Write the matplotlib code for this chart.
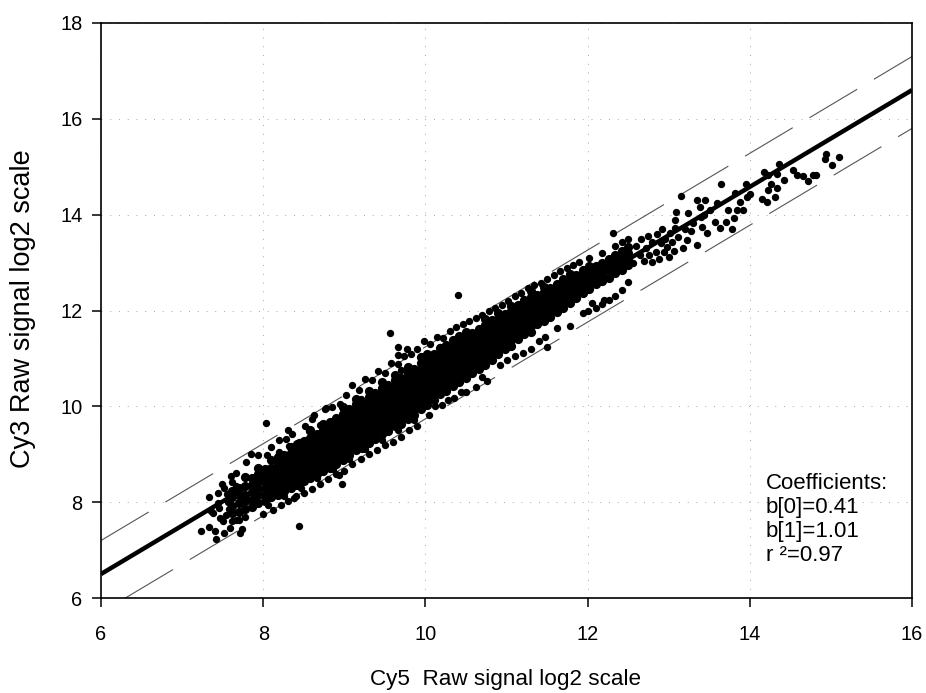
import matplotlib
matplotlib.use("Agg")
import matplotlib.pyplot as plt

plt.rcParams['font.family'] = ['Liberation Sans', 'DejaVu Sans']

# dense part of the cloud, read column by column (x, then the y values in that column)
col_x = [7.62, 7.7, 7.78, 7.86, 7.94, 8.02, 8.1, 8.18, 8.26, 8.34, 8.42, 8.5, 8.58, 8.66, 8.74, 8.82, 8.9, 8.98,
         9.06, 9.14, 9.22, 9.3, 9.38, 9.46, 9.54, 9.62, 9.7, 9.78, 9.86, 9.94, 10.02, 10.1, 10.18, 10.26, 10.34,
         10.42, 10.5, 10.58, 10.66, 10.74, 10.82, 10.9, 10.98, 11.06, 11.14, 11.22, 11.3, 11.38, 11.46, 11.54,
         11.62, 11.7, 11.78, 11.86, 11.94, 12.02, 12.1, 12.18, 12.26, 12.34, 12.42, 12.5]
col_y = [
    [7.78, 7.92, 8.1, 8.24],
    [7.8, 7.98, 8.14, 8.3],
    [7.86, 8.02, 8.16, 8.34, 8.52],
    [7.9, 8.05, 8.22, 8.36, 8.5],
    [7.98, 8.14, 8.28, 8.42, 8.58, 8.72],
    [8.02, 8.16, 8.3, 8.44, 8.56, 8.7],
    [8.1, 8.22, 8.34, 8.46, 8.6, 8.72, 8.88],
    [8.16, 8.3, 8.42, 8.54, 8.68, 8.8, 8.94],
    [8.24, 8.36, 8.48, 8.6, 8.72, 8.84, 8.98],
    [8.3, 8.42, 8.54, 8.66, 8.78, 8.9, 9.02, 9.16],
    [8.36, 8.48, 8.6, 8.72, 8.84, 8.96, 9.08, 9.22],
    [8.44, 8.56, 8.68, 8.8, 8.92, 9.04, 9.16, 9.28],
    [8.5, 8.62, 8.74, 8.86, 8.98, 9.1, 9.22, 9.34, 9.5],
    [8.58, 8.7, 8.82, 8.94, 9.06, 9.18, 9.3, 9.42],
    [8.66, 8.78, 8.9, 9.02, 9.14, 9.26, 9.38, 9.5, 9.64],
    [8.72, 8.84, 8.96, 9.08, 9.2, 9.32, 9.44, 9.56, 9.68],
    [8.8, 8.92, 9.04, 9.16, 9.28, 9.4, 9.52, 9.64, 9.76],
    [8.88, 9.0, 9.12, 9.24, 9.36, 9.48, 9.6, 9.72, 9.84, 9.98],
    [8.98, 9.1, 9.22, 9.34, 9.46, 9.58, 9.7, 9.82, 9.94],
    [9.08, 9.2, 9.32, 9.44, 9.56, 9.68, 9.8, 9.92, 10.04, 10.16],
    [9.14, 9.26, 9.38, 9.5, 9.62, 9.74, 9.86, 9.98, 10.1],
    [9.24, 9.36, 9.48, 9.6, 9.72, 9.84, 9.96, 10.08, 10.2, 10.32],
    [9.32, 9.44, 9.56, 9.68, 9.8, 9.92, 10.04, 10.16, 10.28],
    [9.42, 9.54, 9.66, 9.78, 9.9, 10.02, 10.14, 10.26, 10.38, 10.5],
    [9.48, 9.6, 9.72, 9.84, 9.96, 10.08, 10.2, 10.32, 10.44],
    [9.58, 9.7, 9.82, 9.94, 10.06, 10.18, 10.3, 10.42, 10.54, 10.66],
    [9.64, 9.76, 9.88, 10.0, 10.12, 10.24, 10.36, 10.48, 10.6],
    [9.74, 9.86, 9.98, 10.1, 10.22, 10.34, 10.46, 10.58, 10.7, 10.82],
    [9.82, 9.94, 10.06, 10.18, 10.3, 10.42, 10.54, 10.66, 10.78],
    [9.94, 10.06, 10.18, 10.3, 10.42, 10.54, 10.66, 10.78, 10.9, 11.02],
    [10.02, 10.14, 10.26, 10.38, 10.5, 10.62, 10.74, 10.86, 10.98, 11.1],
    [10.14, 10.26, 10.38, 10.5, 10.62, 10.74, 10.86, 10.98, 11.1],
    [10.26, 10.38, 10.5, 10.62, 10.74, 10.86, 10.98, 11.1, 11.22],
    [10.32, 10.44, 10.56, 10.68, 10.8, 10.92, 11.04, 11.16, 11.28],
    [10.42, 10.54, 10.66, 10.78, 10.9, 11.02, 11.14, 11.26, 11.38],
    [10.5, 10.62, 10.74, 10.86, 10.98, 11.1, 11.22, 11.34, 11.46],
    [10.6, 10.72, 10.84, 10.96, 11.08, 11.2, 11.32, 11.44, 11.56],
    [10.7, 10.82, 10.94, 11.06, 11.18, 11.3, 11.42, 11.54],
    [10.78, 10.9, 11.02, 11.14, 11.26, 11.38, 11.5, 11.62],
    [10.86, 10.98, 11.1, 11.22, 11.34, 11.46, 11.58, 11.7, 11.82],
    [10.96, 11.08, 11.2, 11.32, 11.44, 11.56, 11.68, 11.8],
    [11.1, 11.22, 11.34, 11.46, 11.58, 11.7, 11.82, 11.94],
    [11.2, 11.32, 11.44, 11.56, 11.68, 11.8, 11.92],
    [11.26, 11.38, 11.5, 11.62, 11.74, 11.86, 11.98, 12.1],
    [11.4, 11.52, 11.64, 11.76, 11.88, 12.0, 12.12],
    [11.5, 11.62, 11.74, 11.86, 11.98, 12.1, 12.22],
    [11.56, 11.68, 11.8, 11.92, 12.04, 12.16, 12.28, 12.4],
    [11.72, 11.84, 11.96, 12.08, 12.2, 12.32],
    [11.78, 11.9, 12.02, 12.14, 12.26, 12.38, 12.5],
    [11.86, 11.98, 12.1, 12.22, 12.34, 12.46],
    [11.96, 12.08, 12.2, 12.32, 12.44, 12.56],
    [12.06, 12.18, 12.3, 12.42, 12.54, 12.66],
    [12.16, 12.28, 12.4, 12.52, 12.64, 12.76],
    [12.26, 12.38, 12.5, 12.62, 12.74],
    [12.36, 12.48, 12.6, 12.72, 12.84],
    [12.44, 12.56, 12.68, 12.8, 12.92],
    [12.56, 12.68, 12.8, 12.92],
    [12.62, 12.76, 12.88, 13.0],
    [12.68, 12.84, 12.96, 13.08],
    [12.78, 12.92, 13.04, 13.16],
    [12.84, 12.98, 13.12, 13.24],
    [12.94, 13.08, 13.2, 13.32],
]

# ragged upper and lower rim of the cloud
top_edge_x = [8.1, 8.2, 8.28, 8.36, 8.44, 8.52, 8.56, 8.63, 8.7, 8.76, 8.85, 8.95, 9.02, 9.1, 9.18, 9.26, 9.34, 9.42,
              9.5, 9.58, 9.66, 9.74, 9.82, 9.9, 9.98, 10.06, 10.14, 10.22, 10.3, 10.38, 10.46, 10.54, 10.62, 10.7,
              10.78, 10.86, 10.94, 11.02, 11.1, 11.18, 11.26, 11.34, 11.42, 11.5, 11.58, 11.66, 11.74, 11.82, 11.9,
              8.05, 8.32, 8.6, 8.9, 9.2, 9.46, 9.7, 9.94, 10.18, 12.02, 12.18, 12.34, 12.42, 12.5]
top_edge_y = [9.15, 9.05, 9.32, 9.42, 9.26, 9.6, 9.48, 9.82, 9.62, 9.95, 9.98, 10.05, 10.24, 10.44, 10.35, 10.58, 10.55,
              10.74, 10.7, 10.9, 10.88, 11.06, 11.1, 11.2, 11.36, 11.3, 11.44, 11.42, 11.58, 11.66, 11.72, 11.78, 11.84,
              11.9, 12.0, 12.06, 12.12, 12.2, 12.3, 12.36, 12.46, 12.54, 12.58, 12.66, 12.74, 12.82, 12.88, 12.94, 13.02,
              8.98, 9.18, 9.38, 9.7, 10.16, 10.48, 10.76, 11.04, 11.24, 13.1, 13.2, 13.34, 13.44, 13.5]
bottom_edge_x = [8.0, 8.12, 8.22, 8.3, 8.4, 8.5, 8.6, 8.7, 8.8, 8.9, 9.0, 9.1, 9.2, 9.3, 9.4, 9.5, 9.6, 9.7, 9.8, 9.9,
                 10.05, 10.2, 10.35, 10.5, 10.62, 10.76, 10.92, 11.1, 11.3, 11.47, 11.5, 11.62, 11.78, 11.94, 12.0,
                 8.06, 8.26, 8.46, 8.66, 8.86, 9.06, 9.26, 9.46, 9.66, 9.86, 10.12, 10.28, 10.44, 10.7, 11.0, 11.2, 11.4,
                 12.1, 12.18, 12.26, 12.34, 12.42]
bottom_edge_y = [7.76, 7.84, 7.94, 8.02, 8.12, 8.2, 8.28, 8.38, 8.48, 8.58, 8.66, 8.8, 8.9, 9.0, 9.08, 9.2, 9.26, 9.36,
                 9.5, 9.6, 9.82, 10.02, 10.17, 10.3, 10.4, 10.52, 10.87, 11.05, 11.2, 11.45, 11.23, 11.63, 11.67, 11.94, 11.98,
                 7.94, 8.12, 8.3, 8.5, 8.7, 8.9, 9.1, 9.3, 9.5, 9.72, 10.0, 10.14, 10.3, 10.62, 10.96, 11.12, 11.36,
                 12.06, 12.14, 12.22, 12.3, 12.42]

# sparser points and outliers read one by one
low_x = [7.23, 7.42, 7.33, 7.33, 7.4, 7.52, 7.59, 7.72, 7.74, 7.67, 7.49, 7.55, 7.44, 7.38, 7.47, 7.67, 7.79, 7.85,
         7.93, 7.6, 7.52, 8.44, 8.04, 8.97, 8.93, 8.3, 8.6, 8.78, 8.38, 8.2,
         7.46, 7.5, 7.54, 7.58, 7.62, 7.66, 7.7, 7.78, 7.36, 7.44, 7.62, 7.56]
low_y = [7.39, 7.23, 8.1, 7.48, 7.39, 7.36, 7.47, 7.35, 7.45, 7.62, 8.38, 8.18, 7.98, 7.78, 7.66, 8.61, 8.84, 9.0,
         8.98, 8.54, 8.3, 7.5, 9.66, 8.37, 8.56, 9.5, 9.74, 9.96, 8.08, 9.3,
         7.88, 7.6, 7.74, 7.86, 7.6, 8.34, 7.62, 7.7, 7.82, 8.2, 8.42, 8.0]
mid_x = [10.4, 9.56, 9.66, 9.77, 9.66, 12.2, 12.05, 12.5, 12.31]
mid_y = [12.32, 11.53, 11.24, 11.19, 11.07, 12.22, 12.16, 12.6, 13.61]
high_x = [12.56, 12.6, 12.64, 12.66, 12.7, 12.72, 12.74, 12.76, 12.8, 12.8, 12.84, 12.86, 12.88, 12.9, 12.92, 12.94, 12.96,
          12.98, 13.0, 13.02, 13.04, 13.06, 13.08, 13.09, 13.08, 13.12, 13.15, 13.18, 13.24, 13.2, 13.22, 13.28, 13.35,
          13.35, 13.39, 13.41, 13.45, 13.47, 13.51, 13.57, 13.59, 13.63, 13.64, 13.71, 13.73, 13.78, 13.8, 13.82, 13.84,
          13.88, 13.92, 13.95, 13.96, 14.0, 13.4, 13.3, 13.44]
high_y = [13.0, 13.34, 13.16, 13.5, 13.04, 13.3, 13.56, 13.16, 13.02, 13.42, 13.22, 13.6, 13.08, 13.4, 13.7, 13.22, 13.5,
          13.32, 13.12, 13.62, 13.42, 13.24, 13.72, 14.06, 13.88, 13.54, 14.4, 13.3, 14.04, 13.7, 13.48, 13.66, 13.36,
          14.31, 14.16, 13.75, 14.31, 13.61, 14.1, 13.85, 14.24, 13.72, 14.65, 13.85, 14.1, 13.7, 13.93, 14.45, 14.1,
          14.27, 14.1, 14.63, 14.37, 14.44, 13.96, 13.82, 14.0]
top_x = [14.18, 14.23, 14.36, 14.34, 14.42, 14.26, 14.33, 14.23, 14.31, 14.15, 14.21, 14.53, 14.58, 14.66, 14.72, 14.78,
         14.82, 14.93, 14.94, 15.01, 15.1]
top_y = [14.89, 14.83, 15.05, 14.84, 14.72, 14.63, 14.55, 14.51, 14.37, 14.32, 14.26, 14.93, 14.83, 14.8, 14.7, 14.82,
         14.83, 15.16, 15.26, 15.04, 15.2]

# fitted line and the two prediction bands (ends)
fit_x = [6, 16]
fit_y = [6.5, 16.6]
upper_x = [6, 16]
upper_y = [7.2, 17.3]
lower_x = [6.3, 16]
lower_y = [6.0, 15.8]

ticks_x = [6, 8, 10, 12, 14, 16]
ticks_y = [6, 8, 10, 12, 14, 16, 18]

band_x = []
band_y = []
for x, ys in zip(col_x, col_y):
    band_x += [x] * len(ys)
    band_y += ys

fig = plt.figure(figsize=(9.26, 6.93), dpi=100)
ax = fig.add_axes([101 / 926, 1 - 598 / 693, 811 / 926, 575 / 693])

ax.grid(True, color='#a6a6a6', linestyle=(0, (1, 8)), linewidth=0.7)
ax.set_axisbelow(True)

ax.plot(fit_x, fit_y, color='black', linewidth=3.2, solid_capstyle='butt')
ax.plot(upper_x, upper_y, color='#555555', linewidth=0.8, linestyle=(0, (50, 17.5)))
ax.plot(lower_x, lower_y, color='#555555', linewidth=0.8, linestyle=(0, (50, 17.5)))

# core dots a bit bigger so the middle of the cloud closes up like in the print
ax.scatter(band_x, band_y, s=44, color='black', linewidths=0, zorder=3)
for xs, ys in [(top_edge_x, top_edge_y), (bottom_edge_x, bottom_edge_y),
               (low_x, low_y), (mid_x, mid_y), (high_x, high_y), (top_x, top_y)]:
    ax.scatter(xs, ys, s=28, color='black', linewidths=0, zorder=3)

ax.set_xlim(6, 16)
ax.set_ylim(6, 18)
ax.set_xticks(ticks_x)
ax.set_yticks(ticks_y)
ax.tick_params(labelsize=14.4, length=6.3, width=1.1)
ax.tick_params(axis='x', pad=13)
ax.tick_params(axis='y', pad=7)
for spine in ax.spines.values():
    spine.set_linewidth(1.2)

fig.text(506 / 926, 1 - 680 / 693, 'Cy5  Raw signal log2 scale', fontsize=16.2, ha='center', va='center')
fig.text(23 / 926, 1 - 309 / 693, 'Cy3 Raw signal log2 scale', fontsize=19.5, rotation=90, ha='center', va='center')

ax.text(14.2, 6.66, 'Coefficients:\nb[0]=0.41\nb[1]=1.01\nr ²=0.97', fontsize=16, linespacing=1.2,
        ha='left', va='bottom')

fig.savefig('out.png', dpi=100)
